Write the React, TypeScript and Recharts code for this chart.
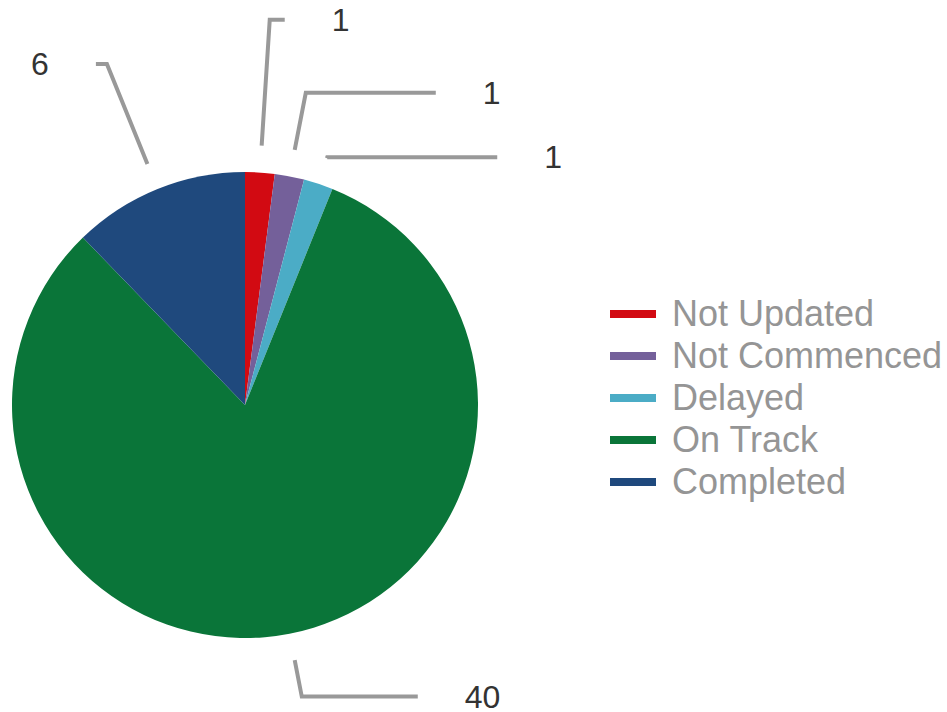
import { PieChart, Pie, Cell, Legend } from "recharts";

const categories = ["Not Updated", "Not Commenced", "Delayed", "On Track", "Completed"];
const counts = [1, 1, 1, 40, 6];
const colors = ["#d20a12", "#74609a", "#4bacc6", "#0a7539", "#1f497d"];

// leader line layout per slice: radius of the elbow, length of the horizontal run
const elbowRadius = [386, 318, 261, 297, 368];
const runLength = [15, 130, 170, 116, 11];

const data = categories.map((name, i) => ({ name, value: counts[i] }));

const RADIAN = Math.PI / 180;
const FONT = '"Liberation Sans", Arial, sans-serif';

function polar(cx: number, cy: number, r: number, angle: number) {
  return { x: cx + r * Math.cos(-angle * RADIAN), y: cy + r * Math.sin(-angle * RADIAN) };
}

function renderLabel(props: any) {
  const { cx, cy, midAngle, outerRadius, index, value } = props;
  const start = polar(cx, cy, outerRadius + 27, midAngle);
  const elbow = polar(cx, cy, elbowRadius[index], midAngle);
  const dir = Math.cos(midAngle * RADIAN) >= 0 ? 1 : -1;
  const endX = elbow.x + dir * runLength[index];
  return (
    <g>
      <polyline
        points={`${start.x},${start.y} ${elbow.x},${elbow.y} ${endX},${elbow.y}`}
        fill="none"
        stroke="#999"
        strokeWidth={4}
      />
      <text
        x={endX + dir * 47}
        y={elbow.y}
        textAnchor={dir > 0 ? "start" : "end"}
        dominantBaseline="central"
        fontSize={32}
        fontFamily={FONT}
        fill="#333"
      >
        {value}
      </text>
    </g>
  );
}

// legend keeps the slice order of the source arrays
function LegendList() {
  return (
    <div style={{ fontFamily: FONT }}>
      {categories.map((name, i) => (
        <div key={name} style={{ display: "flex", alignItems: "center", height: 42 }}>
          <span style={{ width: 46, height: 8, background: colors[i], marginRight: 16 }} />
          <span style={{ fontSize: 36, color: "#959595", lineHeight: "42px" }}>{name}</span>
        </div>
      ))}
    </div>
  );
}

export default function App() {
  return (
    <div style={{ position: "absolute", left: 0, top: 0, width: 947, height: 712 }}>
      <PieChart width={947} height={712} margin={{ top: 0, right: 0, bottom: 0, left: 0 }}>
        <Pie
          data={data}
          dataKey="value"
          nameKey="name"
          cx={245}
          cy={405}
          outerRadius={233}
          startAngle={90}
          endAngle={-270}
          stroke="none"
          label={renderLabel}
          labelLine={false}
          isAnimationActive={false}
        >
          {data.map((d, i) => (
            <Cell key={d.name} fill={colors[i]} />
          ))}
        </Pie>
        <Legend
          content={<LegendList />}
          wrapperStyle={{ position: "absolute", left: 610, top: 293, width: 337 }}
        />
      </PieChart>
    </div>
  );
}
